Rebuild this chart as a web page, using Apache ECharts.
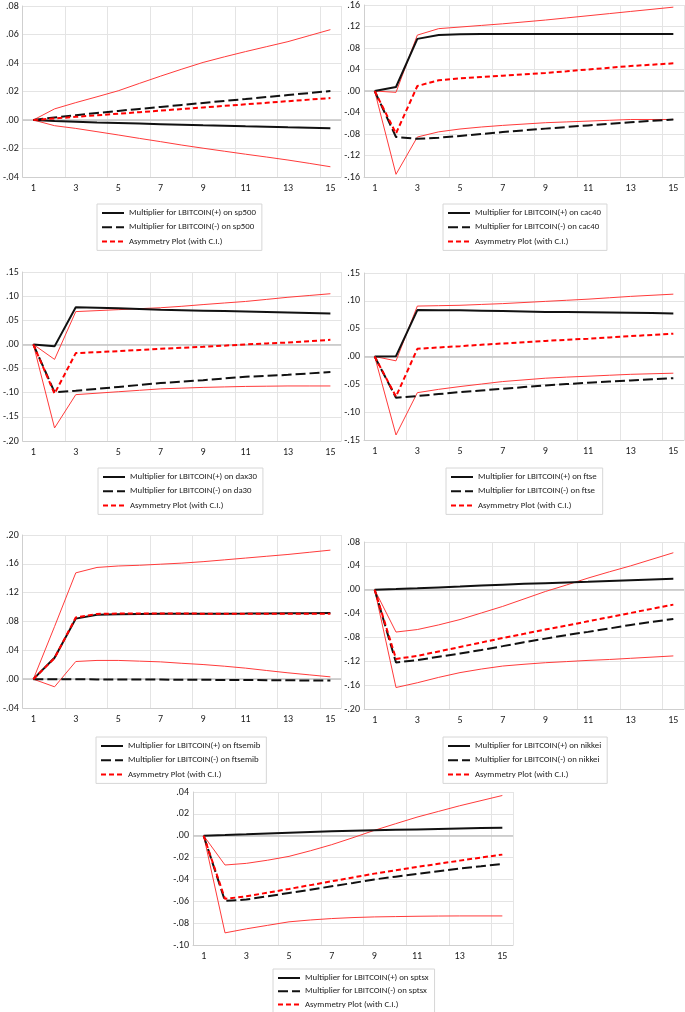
<!DOCTYPE html>
<html><head><meta charset="utf-8">
<script src="https://cdn.jsdelivr.net/npm/echarts@6/dist/echarts.min.js"></script>
<style>html,body{margin:0;padding:0;background:#fff}#c{width:685px;height:1012px}</style>
</head><body><div id="c"></div>
<script>
const periods = ['1','2','3','4','5','6','7','8','9','10','11','12','13','14','15'];
const asymName = 'Asymmetry Plot (with C.I.)';

// sp500
const sp500Plus  = [0,-0.0007,-0.0012,-0.0017,-0.0021,-0.0025,-0.0029,-0.0033,-0.0037,-0.0040,-0.0044,-0.0047,-0.0051,-0.0054,-0.0058];
const sp500Minus = [0,0.0018,0.0034,0.0049,0.0064,0.0078,0.0092,0.0106,0.0120,0.0134,0.0147,0.0161,0.0175,0.0189,0.0203];
const sp500Asym  = [0,0.0011,0.0022,0.0033,0.0044,0.0055,0.0066,0.0077,0.0088,0.0099,0.0110,0.0121,0.0132,0.0143,0.0154];
const sp500Upper = [0,0.0078,0.0122,0.0163,0.0205,0.0257,0.0308,0.0357,0.0404,0.0443,0.0480,0.0515,0.0550,0.0592,0.0634];
const sp500Lower = [0,-0.0040,-0.0059,-0.0082,-0.0105,-0.0129,-0.0152,-0.0176,-0.0198,-0.0219,-0.0240,-0.0260,-0.0281,-0.0304,-0.0328];

// cac40
const cac40Plus  = [0,0.0074,0.097,0.104,0.1055,0.106,0.106,0.106,0.106,0.106,0.106,0.106,0.106,0.106,0.106];
const cac40Minus = [0,-0.0856,-0.089,-0.087,-0.0835,-0.080,-0.0765,-0.0732,-0.070,-0.067,-0.064,-0.061,-0.058,-0.0555,-0.053];
const cac40Asym  = [0,-0.079,0.0093,0.020,0.0236,0.026,0.0285,0.031,0.0335,0.0367,0.040,0.0432,0.0465,0.049,0.0515];
const cac40Upper = [0,-0.0025,0.104,0.116,0.119,0.122,0.125,0.1285,0.132,0.136,0.140,0.144,0.148,0.152,0.156];
const cac40Lower = [0,-0.155,-0.0856,-0.076,-0.0707,-0.067,-0.064,-0.0615,-0.059,-0.0575,-0.056,-0.0545,-0.053,-0.053,-0.053];

// dax30
const dax30Plus  = [0,-0.004,0.077,0.076,0.075,0.0735,0.072,0.071,0.070,0.069,0.068,0.067,0.066,0.065,0.064];
const dax30Minus = [0,-0.099,-0.096,-0.092,-0.088,-0.084,-0.080,-0.077,-0.074,-0.0705,-0.067,-0.065,-0.063,-0.060,-0.057];
const dax30Asym  = [0,-0.102,-0.018,-0.016,-0.014,-0.0115,-0.009,-0.007,-0.005,-0.0025,0,0.002,0.004,0.0068,0.0096];
const dax30Upper = [0,-0.031,0.068,0.070,0.072,0.074,0.076,0.079,0.0825,0.0858,0.089,0.0933,0.0977,0.1013,0.105];
const dax30Lower = [0,-0.173,-0.104,-0.101,-0.098,-0.095,-0.092,-0.0905,-0.089,-0.088,-0.087,-0.0865,-0.086,-0.086,-0.086];

// ftse
const ftsePlus  = [0,0.0006,0.0834,0.0832,0.083,0.0823,0.0816,0.0808,0.080,0.080,0.0795,0.0790,0.0786,0.078,0.0774];
const ftseMinus = [0,-0.074,-0.071,-0.0675,-0.064,-0.061,-0.058,-0.055,-0.052,-0.0495,-0.047,-0.045,-0.043,-0.041,-0.039];
const ftseAsym  = [0,-0.072,0.0138,0.0162,0.0186,0.021,0.0234,0.0257,0.028,0.030,0.032,0.0343,0.0366,0.0388,0.041];
const ftseUpper = [0,-0.0078,0.0906,0.0913,0.092,0.0935,0.095,0.097,0.099,0.101,0.103,0.1055,0.108,0.110,0.112];
const ftseLower = [0,-0.141,-0.065,-0.059,-0.054,-0.0495,-0.045,-0.042,-0.039,-0.037,-0.0354,-0.0337,-0.032,-0.031,-0.030];

// ftsemib
const ftsemibPlus  = [0,0.0296,0.084,0.0895,0.090,0.0905,0.0906,0.0907,0.0908,0.0909,0.091,0.0912,0.0914,0.0916,0.0918];
const ftsemibMinus = [0,-0.0001,-0.0002,-0.0003,-0.0004,-0.0005,-0.0006,-0.0008,-0.0009,-0.0011,-0.0012,-0.0014,-0.0016,-0.0018,-0.0020];
const ftsemibAsym  = [0,0.0293,0.0855,0.0905,0.0910,0.0910,0.0910,0.0910,0.0909,0.0909,0.0909,0.0909,0.0908,0.0908,0.0908];
const ftsemibUpper = [0,0.073,0.1475,0.155,0.157,0.158,0.1595,0.161,0.163,0.1655,0.168,0.1705,0.173,0.176,0.179];
const ftsemibLower = [0,-0.0106,0.0245,0.026,0.026,0.025,0.024,0.022,0.0203,0.018,0.0153,0.012,0.0088,0.006,0.0032];

// nikkei
const nikkeiPlus  = [0,0.0012,0.0025,0.0039,0.0053,0.0069,0.0085,0.0098,0.011,0.0123,0.0135,0.0148,0.016,0.0172,0.0184];
const nikkeiMinus = [0,-0.122,-0.118,-0.1125,-0.107,-0.101,-0.0946,-0.088,-0.082,-0.076,-0.0707,-0.065,-0.059,-0.054,-0.049];
const nikkeiAsym  = [0,-0.116,-0.111,-0.1035,-0.096,-0.0885,-0.081,-0.074,-0.0668,-0.060,-0.053,-0.046,-0.039,-0.032,-0.025];
const nikkeiUpper = [0,-0.071,-0.0668,-0.059,-0.050,-0.039,-0.028,-0.0155,-0.003,0.008,0.0195,0.030,0.040,0.051,0.062];
const nikkeiLower = [0,-0.164,-0.156,-0.147,-0.139,-0.133,-0.128,-0.125,-0.1224,-0.1205,-0.1185,-0.117,-0.115,-0.113,-0.111];

// sptsx
const sptsxPlus  = [0,0.0006,0.0013,0.0021,0.0028,0.0034,0.0040,0.0045,0.0050,0.0054,0.0058,0.0062,0.0066,0.0070,0.0073];
const sptsxMinus = [0,-0.0597,-0.0584,-0.0554,-0.0524,-0.0494,-0.0463,-0.0432,-0.040,-0.0375,-0.035,-0.0325,-0.030,-0.028,-0.0259];
const sptsxAsym  = [0,-0.0578,-0.0554,-0.0521,-0.0487,-0.0452,-0.0417,-0.0382,-0.0347,-0.0316,-0.0286,-0.0257,-0.0228,-0.0200,-0.0173];
const sptsxUpper = [0,-0.0268,-0.0253,-0.0224,-0.0189,-0.0138,-0.0082,-0.0018,0.0049,0.011,0.017,0.0222,0.0274,0.0321,0.0368];
const sptsxLower = [0,-0.0889,-0.0852,-0.082,-0.0788,-0.0771,-0.0758,-0.0749,-0.0743,-0.074,-0.0737,-0.0735,-0.0734,-0.0734,-0.0734];

const plusNames  = ['Multiplier for LBITCOIN(+) on sp500','Multiplier for LBITCOIN(+) on cac40','Multiplier for LBITCOIN(+) on dax30','Multiplier for LBITCOIN(+) on ftse','Multiplier for LBITCOIN(+) on ftsemib','Multiplier for LBITCOIN(+) on nikkei','Multiplier for LBITCOIN(+) on sptsx'];
const minusNames = ['Multiplier for LBITCOIN(-) on sp500','Multiplier for LBITCOIN(-) on cac40','Multiplier for LBITCOIN(-) on da30','Multiplier for LBITCOIN(-) on ftse','Multiplier for LBITCOIN(-) on ftsemib','Multiplier for LBITCOIN(-) on nikkei','Multiplier for LBITCOIN(-) on sptsx'];
const yMins  = [-0.04,-0.16,-0.20,-0.15,-0.04,-0.20,-0.10];
const yMaxs  = [0.08,0.16,0.15,0.15,0.20,0.08,0.04];
const ySteps = [0.02,0.04,0.05,0.05,0.04,0.04,0.02];

const plusData  = [sp500Plus,cac40Plus,dax30Plus,ftsePlus,ftsemibPlus,nikkeiPlus,sptsxPlus];
const minusData = [sp500Minus,cac40Minus,dax30Minus,ftseMinus,ftsemibMinus,nikkeiMinus,sptsxMinus];
const asymData  = [sp500Asym,cac40Asym,dax30Asym,ftseAsym,ftsemibAsym,nikkeiAsym,sptsxAsym];
const upperData = [sp500Upper,cac40Upper,dax30Upper,ftseUpper,ftsemibUpper,nikkeiUpper,sptsxUpper];
const lowerData = [sp500Lower,cac40Lower,dax30Lower,ftseLower,ftsemibLower,nikkeiLower,sptsxLower];

// layout (pixels)
const gridBoxes = [
  {left:21, top:6, width:320, height:171},
  {left:364, top:5, width:320, height:172},
  {left:21, top:272, width:320, height:169},
  {left:364, top:273, width:320, height:167},
  {left:21, top:535, width:320, height:173},
  {left:364, top:542, width:320, height:167},
  {left:193, top:792, width:320, height:153}
];
const legendPos = [
  {left:97, top:204, gap:4.2},{left:443, top:204, gap:4.2},
  {left:98, top:468, gap:4.2},{left:446, top:468, gap:4.2},
  {left:96, top:737, gap:4.2},{left:443, top:737, gap:4.2},
  {left:273, top:969, gap:3.2}
];

const FONT = 'Carlito, Lato, sans-serif';
const fmt = v => { if (Math.abs(v) < 1e-9) return '.00'; const s = Math.abs(v).toFixed(2).replace(/^0/, ''); return (v < 0 ? '-' : '') + s; };

const grid = [], xAxis = [], yAxis = [], series = [], legend = [];
for (let i = 0; i < 7; i++) {
  grid.push(Object.assign({containLabel:false}, gridBoxes[i]));
  xAxis.push({
    type:'category', gridIndex:i, data:periods, boundaryGap:true,
    axisLine:{show:true, onZero:false, lineStyle:{color:'#cfcfcf', width:1}},
    axisTick:{show:false},
    axisLabel:{interval:1, color:'#1a1a1a', fontSize:10, fontFamily:FONT, margin:6},
    splitLine:{show:true, interval:1, lineStyle:{color:'#e4e4e4', width:1}}
  });
  yAxis.push({
    type:'value', gridIndex:i, min:yMins[i], max:yMaxs[i], interval:ySteps[i],
    axisLine:{show:true, lineStyle:{color:'#cfcfcf', width:1}},
    axisTick:{show:false},
    axisLabel:{formatter:fmt, color:'#1a1a1a', fontSize:10, fontFamily:FONT, margin:4},
    splitLine:{show:true, lineStyle:{color:'#e4e4e4', width:1}}
  });
  const base = {type:'line', xAxisIndex:i, yAxisIndex:i, symbol:'none', silent:true, animation:false};
  series.push(Object.assign({}, base, {name:'ciU'+i, data:upperData[i], z:3, lineStyle:{color:'#ff3b3b', width:1}}));
  series.push(Object.assign({}, base, {name:'ciL'+i, data:lowerData[i], z:3, lineStyle:{color:'#ff3b3b', width:1}}));
  series.push(Object.assign({}, base, {name:plusNames[i], data:plusData[i], z:4, itemStyle:{color:'#111'}, lineStyle:{color:'#111', width:2},
    markLine:{silent:true, symbol:'none', label:{show:false}, lineStyle:{color:'#c4c4c4', width:1.5, type:'solid'}, data:[{yAxis:0}], z:1}}));
  series.push(Object.assign({}, base, {name:minusNames[i], data:minusData[i], z:4, itemStyle:{color:'#111'}, lineStyle:{color:'#111', width:2, type:[10,4]}}));
  series.push(Object.assign({}, base, {name:asymName, data:asymData[i], z:5, itemStyle:{color:'#ff0000'}, lineStyle:{color:'#ff0000', width:2, type:[5,3]}}));
  legend.push({
    orient:'vertical', left:legendPos[i].left, top:legendPos[i].top, height:60, width:200,
    data:[
      {name:plusNames[i], itemStyle:{opacity:0}},
      {name:minusNames[i], itemStyle:{opacity:0}},
      {name:asymName, itemStyle:{opacity:0}}
    ],
    selectedMode:false,
    itemStyle:{opacity:0},
    itemWidth:22, itemHeight:10, itemGap:legendPos[i].gap, padding:[4,6,4,4],
    borderColor:'#d6d6d6', borderWidth:1,
    textStyle:{fontSize:8.8, color:'#1a1a1a', fontFamily:FONT, lineHeight:10}
  });
}

const chart = echarts.init(document.getElementById('c'), null, {renderer:'canvas'});
chart.setOption({animation:false, backgroundColor:'#fff', grid, xAxis, yAxis, series, legend});
</script>
</body></html>
